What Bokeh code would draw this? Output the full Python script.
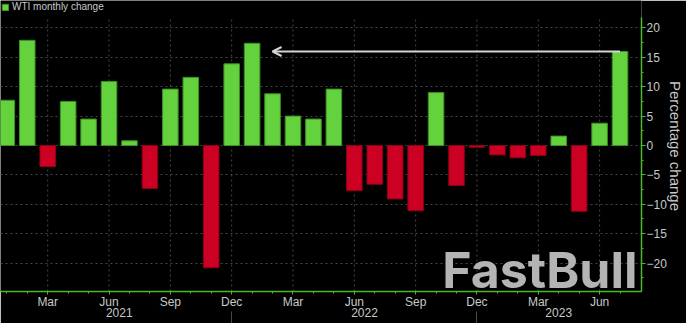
from bokeh.plotting import figure
from bokeh.models import (ColumnDataSource, FixedTicker, LinearAxis, Range1d,
                          Legend, LegendItem, Arrow, OpenHead, Label)
from bokeh.embed import file_html
from bokeh.resources import INLINE

# ---------------- data ----------------
months = ["2021-01", "2021-02", "2021-03", "2021-04", "2021-05", "2021-06",
          "2021-07", "2021-08", "2021-09", "2021-10", "2021-11", "2021-12",
          "2022-01", "2022-02", "2022-03", "2022-04", "2022-05", "2022-06",
          "2022-07", "2022-08", "2022-09", "2022-10", "2022-11", "2022-12",
          "2023-01", "2023-02", "2023-03", "2023-04", "2023-05", "2023-06",
          "2023-07"]
change = [7.7, 17.9, -3.6, 7.5, 4.5, 10.9, 0.8, -7.3, 9.6, 11.6, -20.8, 13.9,
          17.4, 8.8, 5.0, 4.5, 9.6, -7.7, -6.6, -9.1, -11.1, 9.0, -6.8, -0.3,
          -1.6, -2.1, -1.7, 1.6, -11.2, 3.8, 16.0]
series_name = "WTI monthly change"
y_axis_title = "Percentage change"
y_ticks = [-20, -15, -10, -5, 0, 5, 10, 15, 20]
y_minor_ticks = [-22.5, -17.5, -12.5, -7.5, -2.5, 2.5, 7.5, 12.5, 17.5]
labelled_months = ["Mar", "Jun", "Sep", "Dec"]
arrow_from = "2023-07"
arrow_to = "2022-02"
watermark = "FastBull"

MONTH_ABBR = {"01": "Jan", "02": "Feb", "03": "Mar", "04": "Apr", "05": "May",
              "06": "Jun", "07": "Jul", "08": "Aug", "09": "Sep", "10": "Oct",
              "11": "Nov", "12": "Dec"}

idx = list(range(len(months)))
abbr = [MONTH_ABBR[m[5:]] for m in months]
years = [m[:4] for m in months]

pos = ColumnDataSource(dict(x=[i for i, v in zip(idx, change) if v >= 0],
                            top=[v for v in change if v >= 0]))
neg = ColumnDataSource(dict(x=[i for i, v in zip(idx, change) if v < 0],
                            top=[v for v in change if v < 0]))

GREEN = "#63d23d"
GREEN_EDGE = "#3e8f28"
RED = "#cc0022"
RED_EDGE = "#8c0016"
AXIS_GREEN = "#4fb82c"
TEXT = "#c8c8c8"
GRID = "#474747"
FONT = "Liberation Sans"

Y_MIN, Y_AXIS_TOP, Y_VIEW_TOP = -24.85, 21.85, 24.68

p = figure(width=686, height=323,
           x_range=Range1d(-0.31, 31.05), y_range=Range1d(Y_MIN, Y_VIEW_TOP),
           y_axis_location="right", output_backend="svg", toolbar_location=None,
           min_border_left=0, min_border_right=43, min_border_top=0,
           min_border_bottom=32, background_fill_color="black",
           border_fill_color="black", outline_line_color=None)

tick_pos = [i for i, a in zip(idx, abbr) if a in labelled_months]

# vertical dashed grid lines (stop below the legend strip, as in the source)
p.segment(x0=tick_pos, y0=[Y_MIN] * len(tick_pos), x1=tick_pos,
          y1=[Y_AXIS_TOP] * len(tick_pos), line_color=GRID, line_dash="2 3",
          line_width=1)
p.xgrid.visible = False

g = p.vbar(x="x", top="top", bottom=0, width=0.76, source=pos,
           fill_color=GREEN, line_color=GREEN_EDGE, line_width=1)
p.vbar(x="x", top="top", bottom=0, width=0.76, source=neg,
       fill_color=RED, line_color=RED_EDGE, line_width=1)

# ---- x axis (months) ----
xa = p.xaxis[0]
xa.ticker = FixedTicker(ticks=tick_pos, minor_ticks=idx)
xa.major_label_overrides = {i: abbr[i] for i in tick_pos}
xa.axis_line_color = AXIS_GREEN
xa.axis_line_width = 1.5
xa.major_tick_line_color = AXIS_GREEN
xa.minor_tick_line_color = AXIS_GREEN
xa.major_tick_out = 3
xa.major_tick_in = 0
xa.minor_tick_out = 2
xa.minor_tick_in = 0
xa.major_label_standoff = 0
xa.major_label_text_color = TEXT
xa.major_label_text_font = FONT
xa.major_label_text_font_size = "12px"

# ---- year axis ----
year_list = sorted(set(years))
year_centers = []
for y in year_list:
    ii = [i for i, yy in zip(idx, years) if yy == y]
    year_centers.append(sum(ii) / len(ii))
dec_pos = [i for i, a in zip(idx, abbr) if a == "Dec"]
ya2 = LinearAxis(ticker=FixedTicker(ticks=year_centers, minor_ticks=dec_pos))
ya2.major_label_overrides = {c: y for c, y in zip(year_centers, year_list)}
ya2.axis_line_color = None
ya2.major_tick_line_color = None
ya2.minor_tick_line_color = "#3a5430"
ya2.minor_tick_in = 0
ya2.minor_tick_out = 18
ya2.major_label_standoff = -22
ya2.major_label_text_color = TEXT
ya2.major_label_text_font = FONT
ya2.major_label_text_font_size = "12px"
p.add_layout(ya2, "below")

# ---- y axis (right) ----
yax = p.yaxis[0]
yax.bounds = (Y_MIN, Y_AXIS_TOP)
yax.ticker = FixedTicker(ticks=y_ticks, minor_ticks=y_minor_ticks)
yax.axis_line_color = AXIS_GREEN
yax.axis_line_width = 1.5
yax.major_tick_line_color = AXIS_GREEN
yax.minor_tick_line_color = AXIS_GREEN
yax.major_tick_out = 4
yax.major_tick_in = 0
yax.minor_tick_out = 2
yax.minor_tick_in = 0
yax.major_label_standoff = 1
yax.major_label_text_color = TEXT
yax.major_label_text_font = FONT
yax.major_label_text_font_size = "12px"
yax.axis_label = y_axis_title
yax.axis_label_text_color = TEXT
yax.axis_label_text_font = FONT
yax.axis_label_text_font_size = "15px"
yax.axis_label_text_font_style = "normal"
yax.axis_label_standoff = -3

p.ygrid[0].grid_line_color = GRID
p.ygrid[0].grid_line_dash = "2 3"
p.ygrid[0].grid_line_width = 1

# ---- arrow ----
level = change[-1]
p.add_layout(Arrow(end=OpenHead(size=9, line_color="#d4d4d4", line_width=2),
                   x_start=idx[months.index(arrow_from)], y_start=level,
                   x_end=idx[months.index(arrow_to)], y_end=level,
                   line_color="#d4d4d4", line_width=2))

# ---- watermark ----
p.add_layout(Label(x=21.3, y=-21.2, text=watermark, text_font="Inter",
                   text_font_style="bold", text_font_size="50px",
                   text_color="#b4b4b4", text_baseline="alphabetic"))

# ---- legend (top strip) ----
legend = Legend(items=[LegendItem(label=series_name, renderers=[g])],
                location="top_left", orientation="horizontal",
                padding=4, margin=1, glyph_width=8, glyph_height=8,
                label_height=8, label_standoff=3, spacing=0,
                label_text_font=FONT, label_text_font_size="10px",
                label_text_color=TEXT, background_fill_alpha=0,
                border_line_color=None)
p.add_layout(legend)

open("out.html", "w").write(file_html(p, INLINE))
